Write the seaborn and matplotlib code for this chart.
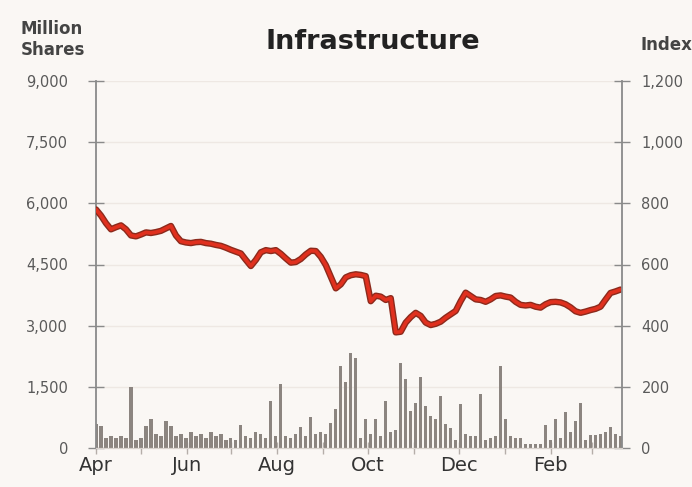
import numpy as np
import pandas as pd
import matplotlib
matplotlib.use("Agg")
import matplotlib.pyplot as plt
import matplotlib.dates as mdates
import matplotlib.patheffects as pe
import matplotlib.ticker as mticker
import seaborn as sns

# ---- data ----
start_date = "2008-04-01"
end_date = "2009-03-20"

volume = [600, 550, 250, 300, 250, 300, 250, 1500, 200, 250,
          550, 700, 350, 300, 650, 550, 300, 350, 250, 400,
          300, 350, 250, 400, 300, 350, 200, 250, 200, 575,
          300, 250, 400, 350, 250, 1150, 300, 1575, 300, 250,
          350, 525, 300, 750, 350, 400, 350, 625, 950, 2000,
          1625, 2325, 2200, 250, 700, 350, 700, 300, 1150, 400,
          450, 2075, 1700, 900, 1100, 1750, 1025, 775, 700, 1275,
          600, 500, 200, 1075, 350, 300, 300, 1325, 200, 250,
          300, 2000, 700, 300, 250, 250, 100, 100, 100, 100,
          575, 200, 700, 250, 875, 400, 650, 1100, 200, 330,
          330, 350, 400, 525, 350, 300]

index_vals = [780, 760, 735, 715, 722, 728, 715, 695, 692, 698,
              705, 703, 706, 710, 718, 726, 695, 676, 672, 670,
              673, 674, 670, 668, 664, 661, 655, 648, 642, 636,
              615, 595, 615, 640, 647, 644, 647, 635, 620, 606,
              608, 618, 633, 645, 644, 625, 598, 560, 522, 535,
              558, 565, 568, 566, 562, 480, 498, 495, 484, 490,
              378, 380, 410, 428, 442, 432, 410, 402, 406, 413,
              426, 437, 448, 480, 508, 497, 486, 484, 478, 486,
              497, 499, 495, 492, 478, 468, 466, 468, 462, 459,
              470, 477, 478, 476, 470, 460, 447, 442, 446, 451,
              455, 462, 485, 507, 512, 518]

left_ticks = [0, 1500, 3000, 4500, 6000, 7500, 9000]
right_ticks = [0, 200, 400, 600, 800, 1000, 1200]

title = "Infrastructure"
left_label = "Million\nShares"
right_label = "Index"

# ---- style ----
BG = "#FAF7F4"
GRID = "#EEE8E3"
AXC = "#8A8A8A"
TXT = "#5A5A5A"

sns.set_theme(style="white")
plt.rcParams["font.family"] = ["DejaVu Sans"]

dates = pd.date_range(start_date, end_date, periods=len(volume))
df = pd.DataFrame({"date": dates, "volume": volume, "index": index_vals})

fig = plt.figure(figsize=(6.92, 4.87), dpi=100, facecolor=BG)
ax = fig.add_axes([96 / 692, 39 / 487, 526 / 692, 367 / 487])
ax.set_facecolor(BG)
ax2 = ax.twinx()

step_days = (dates[1] - dates[0]).total_seconds() / 86400.0
ax.bar(df["date"], df["volume"], width=step_days * 0.65, color="#8C8580",
       linewidth=0, align="center", zorder=2)

sns.lineplot(data=df, x="date", y="index", ax=ax2, color="#E0301E", lw=2.6,
             path_effects=[pe.Stroke(linewidth=4.6, foreground="#8C2A1C"), pe.Normal()])

ax.set_xlim(pd.Timestamp("2008-04-01"), pd.Timestamp("2009-03-21"))
ax.set_ylim(0, 9000)
ax2.set_ylim(0, 1200)
ax.set_yticks(left_ticks)
ax2.set_yticks(right_ticks)
ax.yaxis.set_major_formatter(mticker.FuncFormatter(lambda v, p: f"{int(v):,}"))
ax2.yaxis.set_major_formatter(mticker.FuncFormatter(lambda v, p: f"{int(v):,}"))

ax.xaxis.set_major_locator(mdates.MonthLocator(bymonth=[4, 6, 8, 10, 12, 2]))
ax.xaxis.set_major_formatter(mdates.DateFormatter("%b"))
ax.xaxis.set_minor_locator(mdates.MonthLocator())

ax.grid(axis="y", color=GRID, lw=1.0, zorder=0)
ax.set_axisbelow(True)
ax2.grid(False)

for a in (ax, ax2):
    a.set_xlabel("")
    a.set_ylabel("")
    a.spines["top"].set_visible(False)
    a.spines["left"].set_color(AXC)
    a.spines["right"].set_color(AXC)
    a.spines["bottom"].set_color("#D9D2CD")
    a.spines["left"].set_linewidth(1.3)
    a.spines["right"].set_linewidth(1.3)
    a.spines["bottom"].set_linewidth(0.8)

ax.spines["right"].set_visible(False)
ax2.spines["left"].set_visible(False)

ax.tick_params(axis="y", direction="inout", length=12, width=1, color=AXC,
               labelsize=10.5, labelcolor=TXT, pad=14, left=True)
ax2.tick_params(axis="y", direction="inout", length=12, width=1, color=AXC,
                labelsize=10.5, labelcolor=TXT, pad=8, right=True)
ax.tick_params(axis="x", which="major", direction="inout", length=8, width=1,
               color="#B5AEA9", labelsize=14, labelcolor="#333333", pad=2, bottom=True)
ax.tick_params(axis="x", which="minor", direction="inout", length=8, width=1,
               color="#B5AEA9", bottom=True)

fig.text(373 / 692, 1 - 42 / 487, title, ha="center", va="center",
         fontsize=19.5, fontweight="bold", color="#222222")
fig.text(21 / 692, 1 - 20 / 487, left_label, ha="left", va="top",
         fontsize=12, fontweight="bold", color="#444444", linespacing=1.2)
fig.text(640 / 692, 1 - 45 / 487, right_label, ha="left", va="center",
         fontsize=12, fontweight="bold", color="#444444")

fig.savefig("out.png", dpi=100, facecolor=BG)
